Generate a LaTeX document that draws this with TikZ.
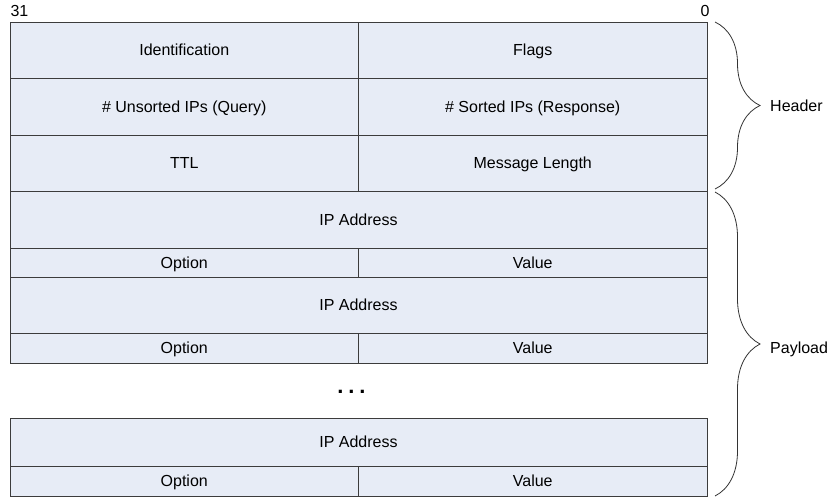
\documentclass[tikz,border=0pt]{standalone}
\usepackage{fontspec}
\setmainfont{Liberation Sans}
\usetikzlibrary{positioning,decorations.pathreplacing}
\definecolor{cellfill}{RGB}{231,236,246}
\definecolor{cellline}{RGB}{60,60,60}

\begin{document}
\begin{tikzpicture}[x=1pt,y=-1pt,
  cell/.style={draw=cellline,fill=cellfill,line width=0.9pt,anchor=north west,
    inner sep=0pt,outer sep=0pt,text height=11.5pt,text depth=0pt,
    font=\fontsize{16}{19}\selectfont},
  half/.style={cell,minimum width=348.5pt},
  full/.style={cell,minimum width=697pt},
  brc/.style={decorate,decoration={brace,amplitude=45pt},draw=black!80,line width=0.8pt},
  lbl/.style={inner sep=0pt,font=\fontsize{16}{19}\selectfont}]
\useasboundingbox (0,0) rectangle (827,497);

% header
\node[half,minimum height=56pt] (ident) at (10,22) {Identification};
\node[half,minimum height=56pt] (flags) at (ident.north east) {Flags};
\node[half,minimum height=57pt] (unsorted) at (ident.south west) {\# Unsorted IPs (Query)};
\node[half,minimum height=57pt] (sorted) at (unsorted.north east) {\# Sorted IPs (Response)};
\node[half,minimum height=56pt] (ttl) at (unsorted.south west) {TTL};
\node[half,minimum height=56pt] (msglen) at (ttl.north east) {Message Length};

% payload
\node[full,minimum height=57pt] (ipa) at (ttl.south west) {IP Address};
\node[half,minimum height=29pt] (opta) at (ipa.south west) {Option};
\node[half,minimum height=29pt] (vala) at (opta.north east) {Value};
\node[full,minimum height=56pt] (ipb) at (opta.south west) {IP Address};
\node[half,minimum height=30pt] (optb) at (ipb.south west) {Option};
\node[half,minimum height=30pt] (valb) at (optb.north east) {Value};
\node[lbl,anchor=base,font=\fontsize{22}{24}\selectfont\bfseries] (dots) at (351.5,393)
  {.\hspace{.22em}.\hspace{.22em}.};
\node[full,minimum height=48pt] (ipc) at (10,418) {IP Address};
\node[half,minimum height=30pt] (optc) at (ipc.south west) {Option};
\node[half,minimum height=30pt] (valc) at (optc.north east) {Value};

% bit numbers
\node[lbl,anchor=base] (msb) at (19.5,17) {31};
\node[lbl,anchor=base] (lsb) at (705,17) {0};

% braces
\coordinate (htop) at ([xshift=8pt]flags.north east);
\coordinate (hbot) at ([xshift=8pt,yshift=2pt]msglen.south east);
\coordinate (ptop) at ([xshift=8pt,yshift=-1pt]ipa.north east);
\coordinate (pbot) at ([xshift=8pt]ipc.east |- valc.south);
\draw[brc] (htop) -- (hbot);
\draw[brc] (ptop) -- (pbot);
\node[lbl,anchor=base west] (hdrlbl) at (770,112) {Header};
\node[lbl,anchor=base west] (paylbl) at (770,353) {Payload};
\end{tikzpicture}
\end{document}
